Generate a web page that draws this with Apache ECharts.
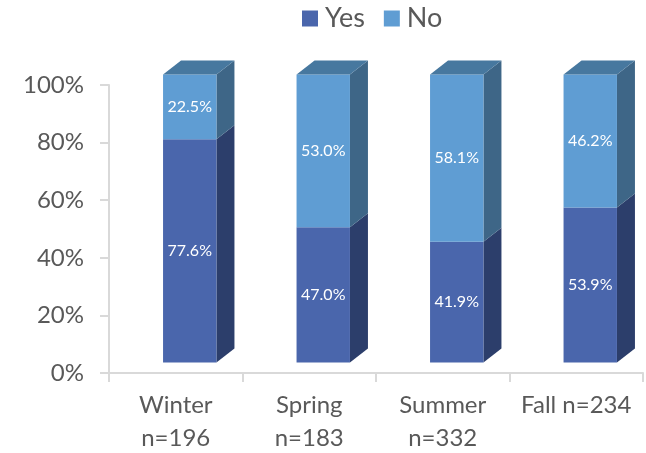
<!DOCTYPE html>
<html>
<head>
    <meta charset="UTF-8">
    <title>Seasons</title>
    <script src="https://cdn.jsdelivr.net/npm/echarts@6/dist/echarts.min.js"></script>
    <style>
        html, body { margin: 0; padding: 0; background: #fff; }
        #main { width: 646px; height: 453px; }
    </style>
</head>
<body>
    <div id="main"></div>
    <script>
        var categories = ['Winter\nn=196', 'Spring\nn=183', 'Summer\nn=332', 'Fall n=234'];
        var yesValues = [77.6, 47.0, 41.9, 53.9];
        var noValues = [22.5, 53.0, 58.1, 46.2];

        var FONT = 'Lato, "Open Sans", sans-serif';
        var GREY = '#595959';
        var AXIS = '#d9d9d9';

        // excel style fake 3D: pixel offsets of the box
        var SHIFT_X = 14, SHIFT_Y = -10.5, DEPTH_X = 18, DEPTH_Y = -14;

        function box(colors, withTop) {
            return function (params, api) {
                var i = api.value(0);
                var w = api.size([1, 0])[0] * 0.4;
                var low = api.coord([i, api.value(1)]);
                var high = api.coord([i, api.value(2)]);
                var x0 = low[0] - w / 2 + SHIFT_X, x1 = x0 + w;
                var y0 = low[1] + SHIFT_Y, y1 = high[1] + SHIFT_Y;
                var children = [
                    { type: 'polygon', shape: { points: [[x1, y0], [x1, y1], [x1 + DEPTH_X, y1 + DEPTH_Y], [x1 + DEPTH_X, y0 + DEPTH_Y]] }, style: { fill: colors.side } },
                    { type: 'rect', shape: { x: x0, y: y1, width: w, height: y0 - y1 }, style: { fill: colors.front } }
                ];
                if (withTop) {
                    children.push({ type: 'polygon', shape: { points: [[x0, y1], [x1, y1], [x1 + DEPTH_X, y1 + DEPTH_Y], [x0 + DEPTH_X, y1 + DEPTH_Y]] }, style: { fill: colors.top } });
                }
                children.push({
                    type: 'text',
                    style: {
                        x: (x0 + x1) / 2, y: (y0 + y1) / 2,
                        text: api.value(3).toFixed(1) + '%',
                        fill: '#fff', font: '16px ' + FONT,
                        align: 'center', verticalAlign: 'middle'
                    }
                });
                return { type: 'group', children: children };
            };
        }

        var yesData = [], noData = [];
        categories.forEach(function (c, i) {
            // 100% stacked, so each value is a share of the column total
            var total = yesValues[i] + noValues[i];
            var split = yesValues[i] / total * 100;
            yesData.push([i, 0, split, yesValues[i]]);
            noData.push([i, split, 100, noValues[i]]);
        });

        var chart = echarts.init(document.getElementById('main'), null, { renderer: 'canvas' });
        chart.setOption({
            animation: false,
            grid: { left: 109, right: 3, top: 85, bottom: 80, outerBoundsMode: 'none' },
            legend: {
                left: 297, top: 0,
                icon: 'rect', itemWidth: 16, itemHeight: 16, itemGap: 19,
                textStyle: { color: GREY, fontSize: 27, fontFamily: FONT, padding: [0, 0, 0, 2] },
                data: ['Yes', 'No']
            },
            xAxis: {
                type: 'category',
                data: categories,
                axisLine: { lineStyle: { color: AXIS, width: 2 } },
                axisTick: { show: true, length: 9, lineStyle: { color: AXIS, width: 2 } },
                axisLabel: { interval: 0, color: GREY, fontSize: 24, fontFamily: FONT, lineHeight: 33, margin: 16 }
            },
            yAxis: {
                type: 'value', min: 0, max: 100, interval: 20,
                splitLine: { show: false },
                axisLine: { show: true, lineStyle: { color: AXIS, width: 2 } },
                axisTick: { show: true, length: 9, lineStyle: { color: AXIS, width: 2 } },
                axisLabel: { formatter: '{value}%', color: GREY, fontSize: 24, fontFamily: FONT, margin: 25 }
            },
            series: [
                {
                    name: 'Yes', type: 'custom', clip: false,
                    itemStyle: { color: '#4a66ac' },
                    encode: { x: 0, y: [1, 2] },
                    renderItem: box({ front: '#4a66ac', side: '#2c3e6b' }, false),
                    data: yesData
                },
                {
                    name: 'No', type: 'custom', clip: false,
                    itemStyle: { color: '#5f9dd3' },
                    encode: { x: 0, y: [1, 2] },
                    renderItem: box({ front: '#5f9dd3', side: '#3e6687', top: '#47789f' }, true),
                    data: noData
                }
            ]
        });
    </script>
</body>
</html>
